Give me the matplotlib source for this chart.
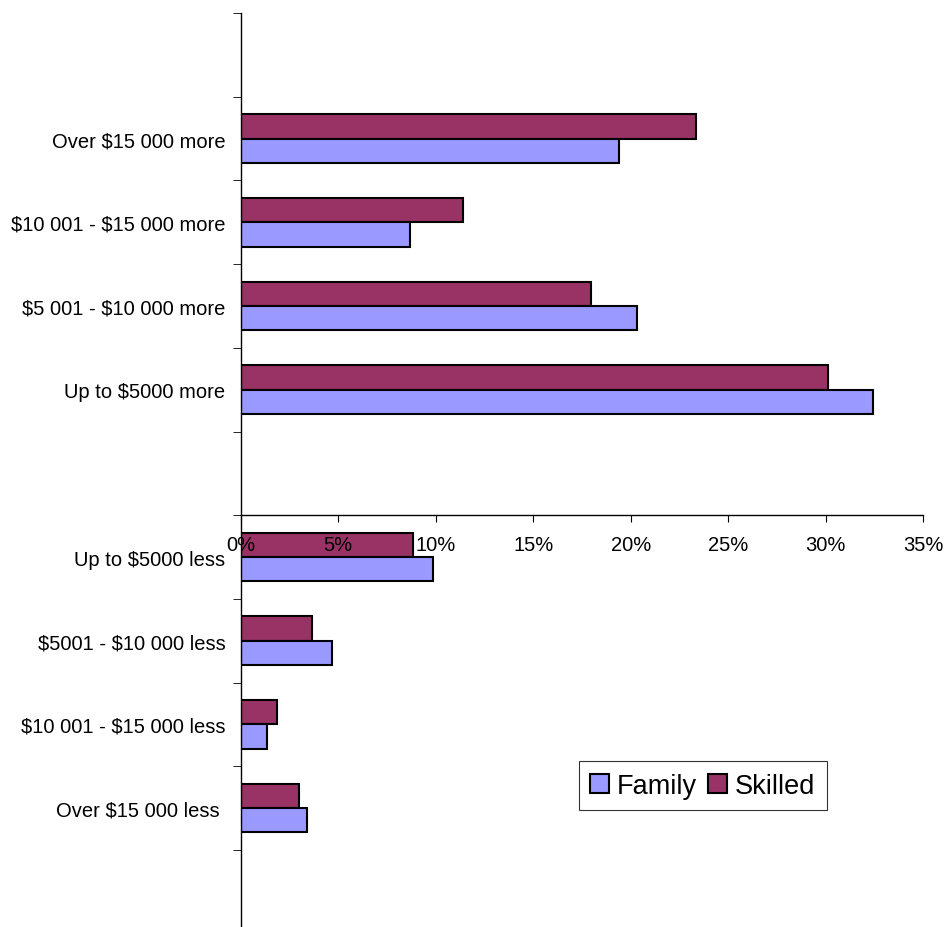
import matplotlib
matplotlib.use("Agg")
import matplotlib.pyplot as plt
from matplotlib.ticker import FixedLocator, FuncFormatter
from matplotlib.patches import Patch

plt.rcParams['font.family'] = ['Liberation Sans', 'DejaVu Sans']
plt.rcParams['text.parse_math'] = False  # labels are full of $ signs

# categories top to bottom, blank slots keep the Excel-like gaps
categories = ["", "Over $15 000 more", "$10 001 - $15 000 more",
              "$5 001 - $10 000 more", "Up to $5000 more", "",
              "Up to $5000 less", "$5001 - $10 000 less",
              "$10 001 - $15 000 less", "Over $15 000 less ", ""]
family = [0, 19.4, 8.7, 20.3, 32.4, 0, 9.85, 4.7, 1.35, 3.4, 0]
skilled = [0, 23.35, 11.4, 17.95, 30.1, 0, 8.85, 3.65, 1.85, 3.0, 0]
xticks = [0, 5, 10, 15, 20, 25, 30, 35]

W, H = 944, 928
fig = plt.figure(figsize=(W / 100, H / 100), dpi=100)
top_px, slot_px = 14, 83.7
n = len(categories)
ax = fig.add_axes([240.7 / W, 1 - (top_px + n * slot_px) / H,
                   (923.3 - 240.7) / W, n * slot_px / H])

bh = 0.29
for i, (f, s) in enumerate(zip(family, skilled)):
    if f == 0 and s == 0:
        continue
    ax.barh(i - bh / 2, s, height=bh, color='#993366', edgecolor='black', linewidth=1.5)
    ax.barh(i + bh / 2, f, height=bh, color='#9999FF', edgecolor='black', linewidth=1.5)

ax.set_xlim(0, 35)
ax.set_ylim(n - 0.5, -0.5)

for side in ['top', 'right']:
    ax.spines[side].set_visible(False)
ax.spines['bottom'].set_position(('data', 5.5))
ax.spines['left'].set_linewidth(1)
ax.spines['bottom'].set_linewidth(1)

ax.set_xticks(xticks)
ax.xaxis.set_major_formatter(FuncFormatter(lambda v, p: '%d%%' % v))
ax.tick_params(axis='x', direction='out', length=5, pad=9, labelsize=14.5)

ax.set_yticks(range(n))
ax.set_yticklabels(categories)
ax.yaxis.set_minor_locator(FixedLocator([k - 0.5 for k in range(n + 1)]))
ax.tick_params(axis='y', which='major', length=0, pad=11, labelsize=14.5)
ax.tick_params(axis='y', which='minor', direction='out', length=6)

handles = [Patch(facecolor='#9999FF', edgecolor='black', linewidth=1.5, label='Family'),
           Patch(facecolor='#993366', edgecolor='black', linewidth=1.5, label='Skilled')]
leg = fig.legend(handles=handles, loc='upper left',
                 bbox_to_anchor=(578.7 / W, 1 - 762.3 / H), ncol=2,
                 fontsize=19.5, frameon=True, fancybox=False, edgecolor='black',
                 handlelength=0.7, handleheight=0.7, handletextpad=0.3,
                 columnspacing=0.4, borderpad=0.42, borderaxespad=0)
leg.get_frame().set_linewidth(0.8)

fig.savefig('out.png', dpi=100)
